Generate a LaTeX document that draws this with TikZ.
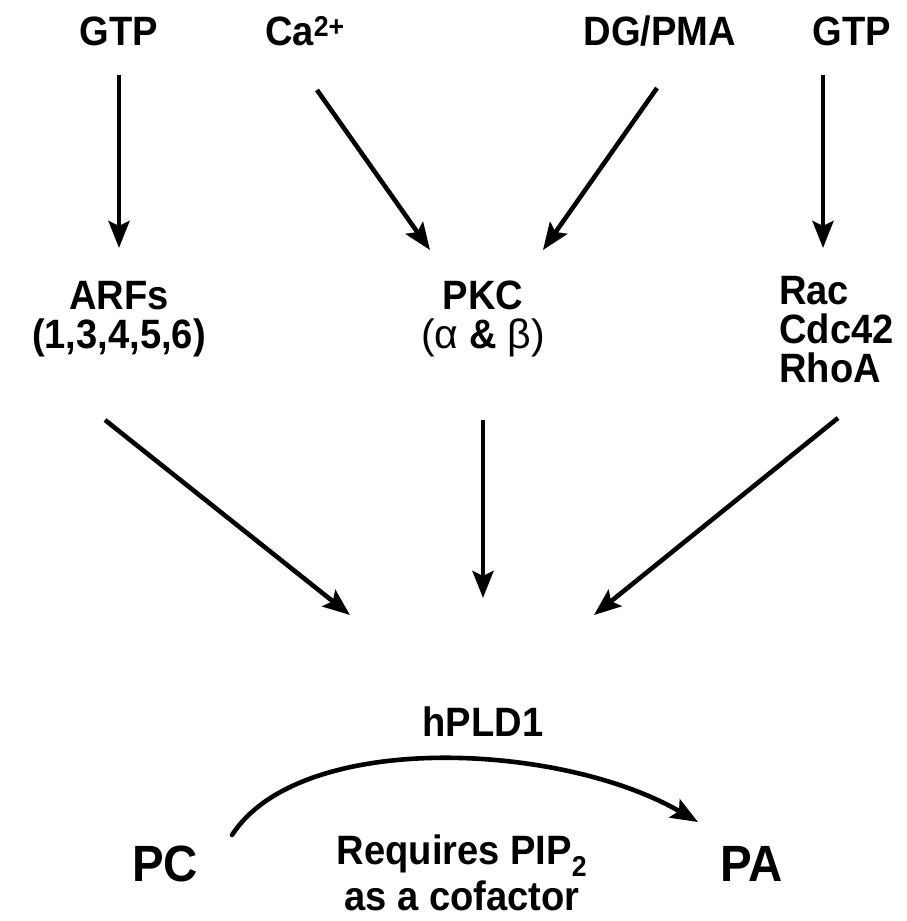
\documentclass[tikz,border=0pt]{standalone}
\usepackage{fontspec}
\setmainfont{Liberation Sans}[BoldFeatures={FakeStretch=0.93}]
\usetikzlibrary{arrows.meta}
\begin{document}
\begin{tikzpicture}[x=1pt,y=-1pt,
  lbl/.style={font=\bfseries\fontsize{41}{39}\selectfont, inner sep=0pt, anchor=center},
  big/.style={font=\bfseries\fontsize{51}{50}\selectfont, inner sep=0pt, anchor=center},
  arr/.style={line width=4.6pt, -{Stealth[length=27pt,width=21pt,inset=5pt]}}]
\useasboundingbox (0,0) rectangle (906,921);
\fill[white] (0,0) rectangle (906,921);
% top labels
\node[lbl] (gtp1) at (119,31) {GTP};
\node[lbl] (ca) at (305,31) {Ca\textsuperscript{2+}};
\node[lbl] (dg) at (660,31) {DG/PMA};
\node[lbl] (gtp2) at (852,31) {GTP};
% middle labels
\node[lbl, align=center] (arf) at (119,319) {ARFs\\(1,3,4,5,6)};
\node[lbl, align=center] (pkc) at (483,319) {PKC\\{\mdseries(α} \& {\mdseries β)}};
\node[lbl, align=left, anchor=west] (rac) at (779,330) {Rac\\Cdc42\\RhoA};
% bottom
\node[lbl] (hpld) at (483,722) {hPLD1};
\node[big] (pc) at (165,864) {PC};
\node[big] (pa) at (752,864) {PA};
\node[lbl, align=center] (req) at (462,873) {Requires PIP\textsubscript{2}\\[4pt]as a cofactor};
% connector endpoints
\coordinate (a1s) at (119,75);  \coordinate (a1e) at (119,248);
\coordinate (a2s) at (317,90);  \coordinate (a2e) at (430,250);
\coordinate (a3s) at (657,88);  \coordinate (a3e) at (543,250);
\coordinate (a4s) at (823,75);  \coordinate (a4e) at (823,248);
\coordinate (b1s) at (105,420); \coordinate (b1e) at (350,615);
\coordinate (b2s) at (483,420); \coordinate (b2e) at (483,598);
\coordinate (b3s) at (838,418); \coordinate (b3e) at (594,615);
\coordinate (cs) at (232,835);  \coordinate (ce) at (698,822);
\draw[arr] (a1s) -- (a1e);
\draw[arr] (a2s) -- (a2e);
\draw[arr] (a3s) -- (a3e);
\draw[arr] (a4s) -- (a4e);
\draw[arr] (b1s) -- (b1e);
\draw[arr] (b2s) -- (b2e);
\draw[arr] (b3s) -- (b3e);
\draw[arr, line cap=round] (cs) .. controls (300,730) and (560,742) .. (ce);
\end{tikzpicture}
\end{document}
